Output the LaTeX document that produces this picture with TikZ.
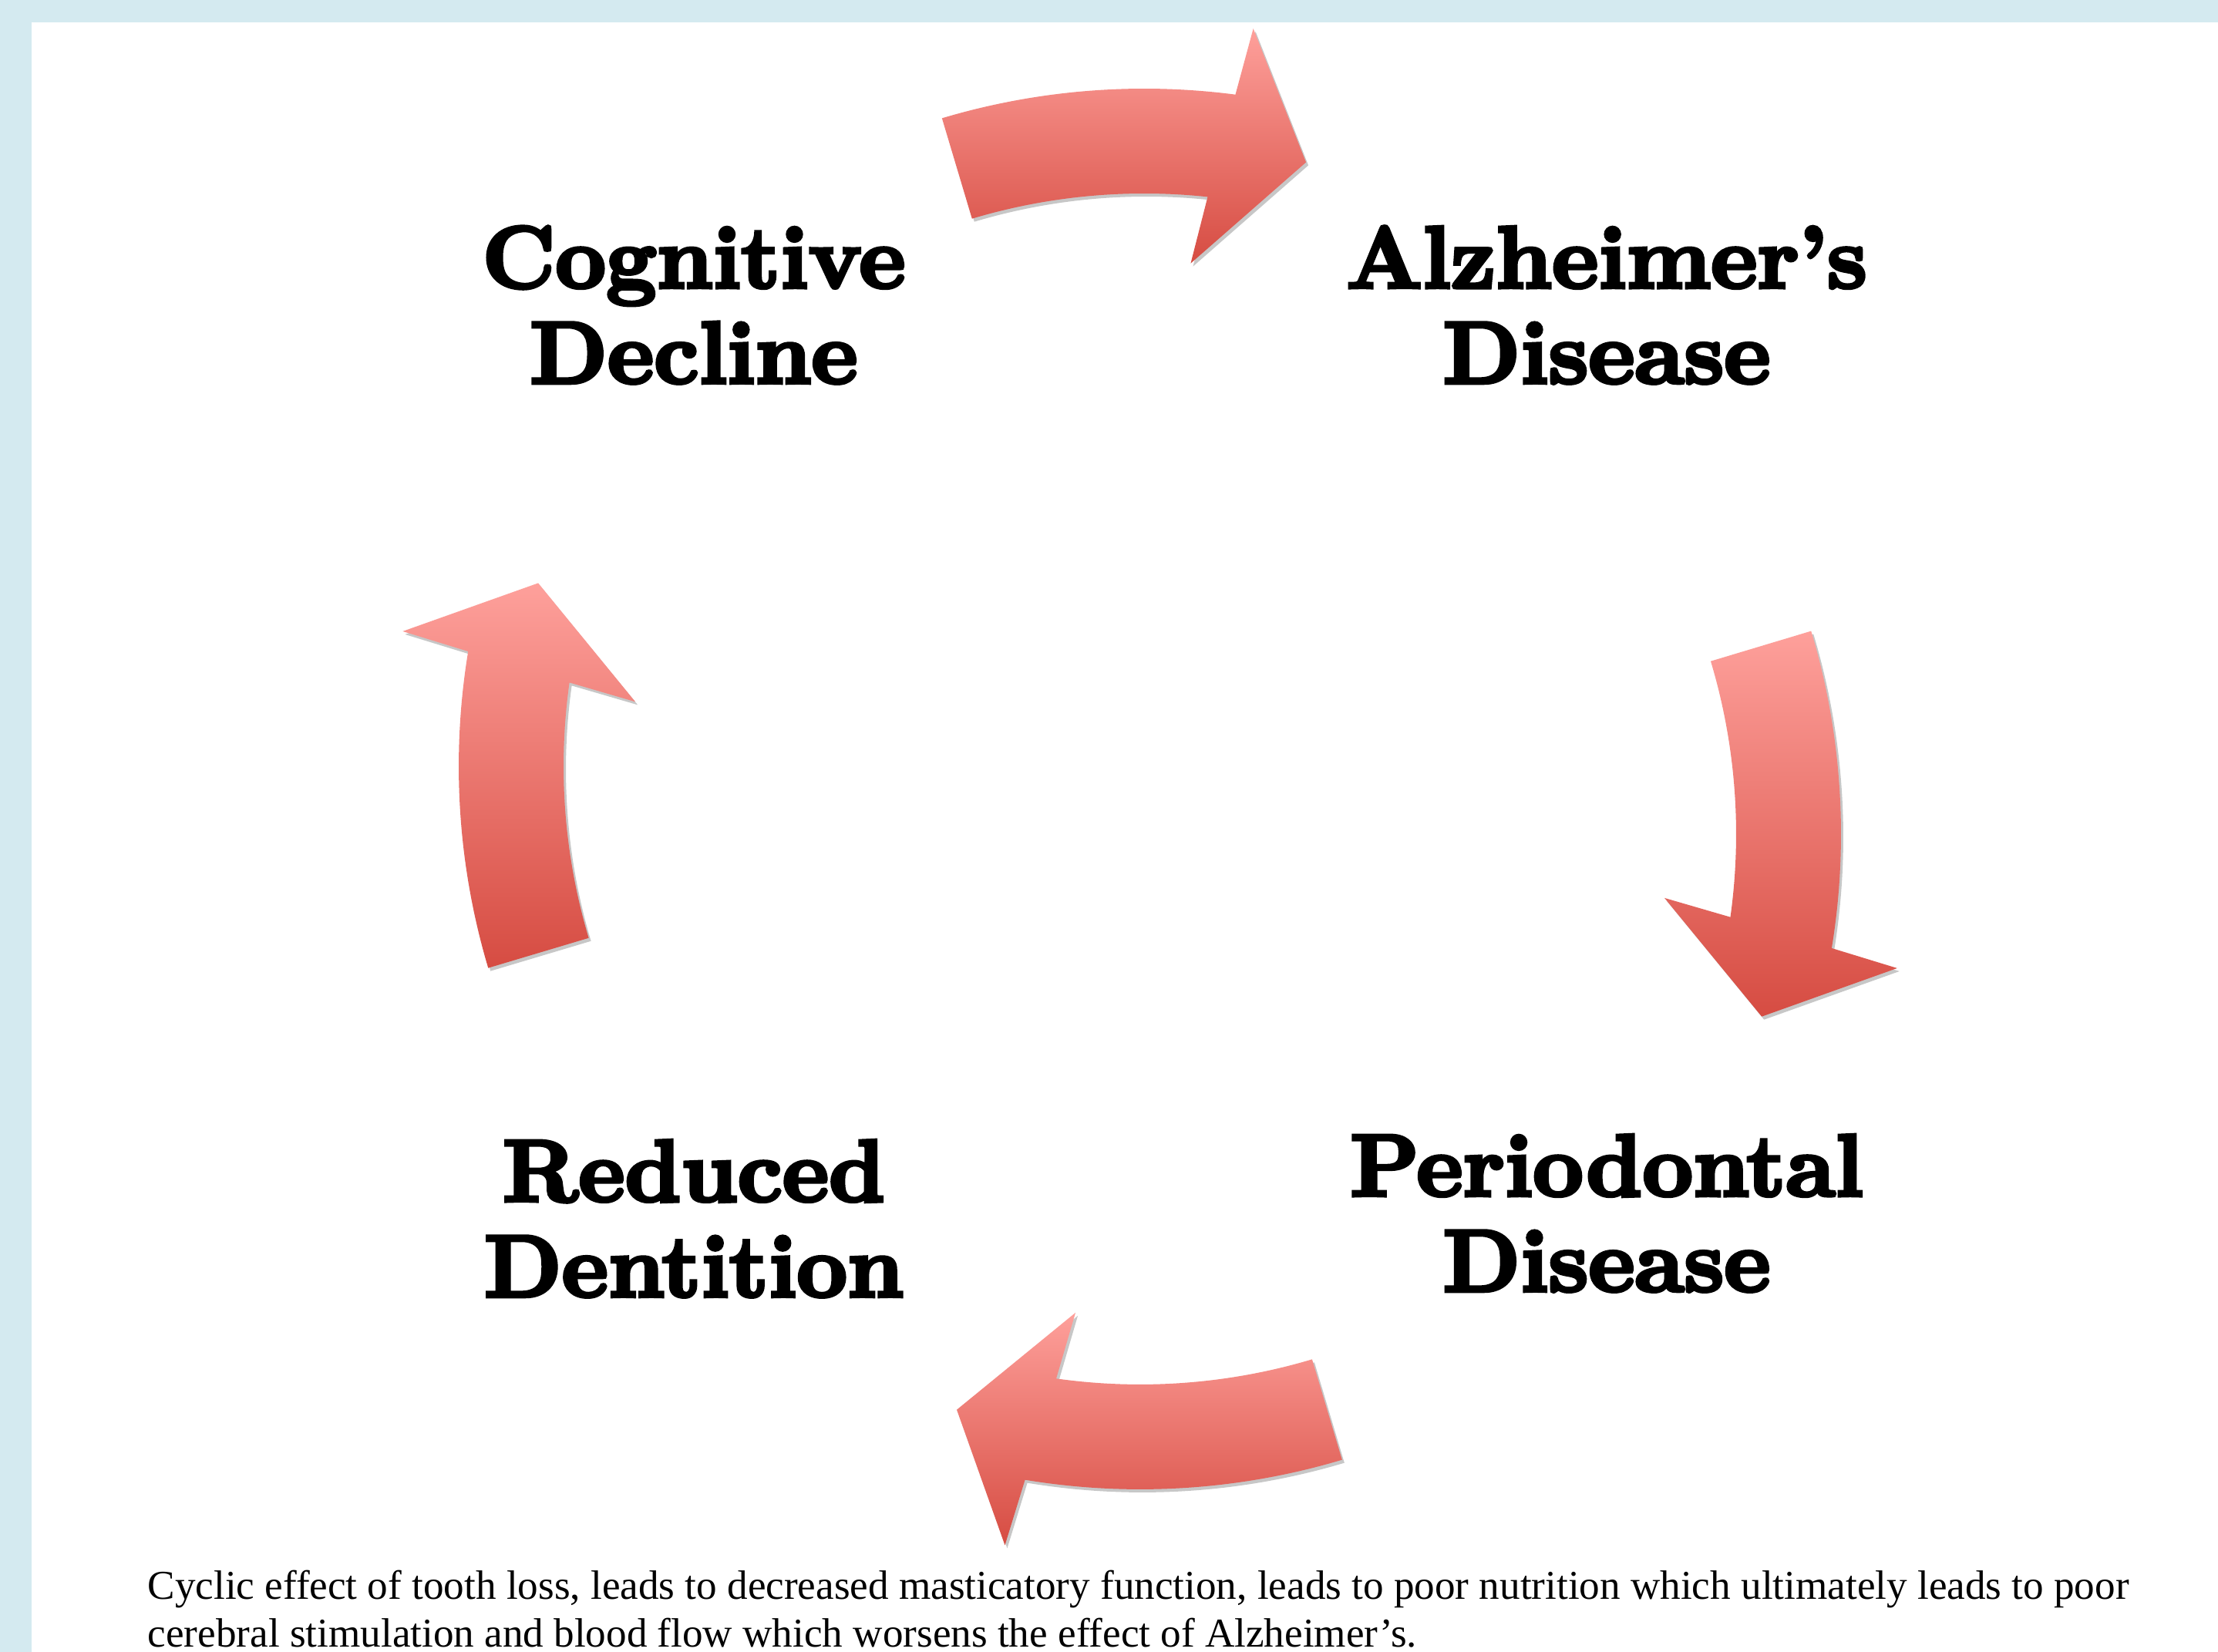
\documentclass[tikz,border=0pt]{standalone}
\usepackage{fontspec}
\setmainfont{Liberation Serif}
\newfontfamily\headfont{lmroman10-bold.otf}[FakeBold=4]
\usetikzlibrary{shadows}

\definecolor{framecol}{RGB}{212,234,240}
\definecolor{pinktop}{RGB}{254,160,155}
\definecolor{pinkmid}{RGB}{243,133,125}
\definecolor{pinkbot}{RGB}{214,76,66}

\begin{document}
\begin{tikzpicture}[
  stage/.style={align=center,inner sep=0pt,anchor=base,
    font=\headfont\fontsize{32.5}{35.2}\selectfont},
  arrowfill/.style={top color=pinktop,middle color=pinkmid,bottom color=pinkbot,
    drop shadow={shadow xshift=0.03,shadow yshift=-0.04,opacity=0.22,fill=black}},
  % curved block arrow round its own centre: #1 tail angle, #2 sweep
  pics/cyclearrow/.style 2 args={code={
    \pgfmathsetmacro\na{#1-#2}
    \shade[arrowfill] (#1:9.15) arc[start angle=#1,end angle=\na,radius=9.15]
      -- ({\na-0.68}:10.03) -- ({\na-6.94}:8.46) -- ({\na+2.42}:6.91)
      -- ({\na+1.36}:7.79) arc[start angle={\na+1.36},end angle=#1,radius=7.79]
      -- cycle;
  }}
]
\useasboundingbox (0,0) rectangle (28.77,21.43);

% frame
\fill[framecol] (0,0) rectangle (28.77,21.43);
\fill[white] (0.41,0) rectangle (28.77,21.14);

% the four stages (base = last line)
\node[stage] (cog)   at (9.00,16.46)  {Cognitive\\Decline};
\node[stage] (alz)   at (20.84,16.46) {Alzheimer’s\\Disease};
\node[stage] (perio) at (20.84,4.68)  {Periodontal\\Disease};
\node[stage] (dent)  at (9.00,4.61)   {Reduced\\Dentition};

% the arrows of the cycle
\pic at (14.84,11.13) {cyclearrow={106.65}{24.09}};
\pic at (14.73,10.61) {cyclearrow={16.73}{26.04}};
\pic at (14.79,11.26) {cyclearrow={-73.37}{26.03}};
\pic at (15.10,11.49) {cyclearrow={196.62}{25.99}};

% caption
\node[align=left,inner sep=0pt,anchor=base west,
  font=\fontsize{15.12}{17.6}\selectfont] (caption) at (1.91,0.063)
  {Cyclic effect of tooth loss, leads to decreased masticatory function, leads to poor nutrition which ultimately leads to poor\\
   cerebral stimulation and blood flow which worsens the effect of Alzheimer’s.};
\end{tikzpicture}
\end{document}
